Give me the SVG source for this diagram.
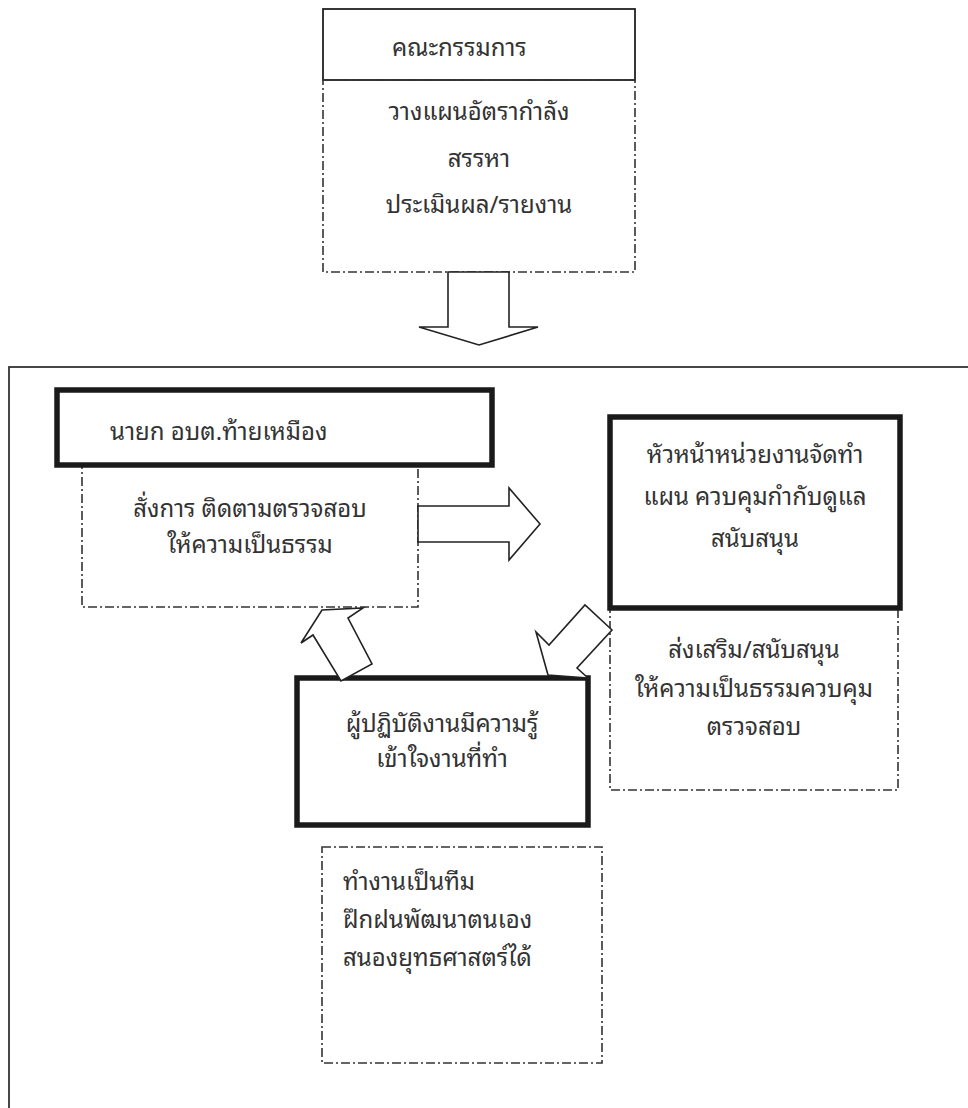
<svg xmlns="http://www.w3.org/2000/svg" width="968" height="1108" viewBox="0 0 968 1108">
<style>
.bg{fill:#ffffff}
.frame{fill:none;stroke:#333;stroke-width:1.8}
.thin{fill:#fff;stroke:#222;stroke-width:1.8}
.thick{fill:#fff;stroke:#1a1a1a;stroke-width:5.5}
.dash{fill:none;stroke:#333;stroke-width:1.6;stroke-dasharray:9 3 2 3}
.arrow{fill:#fff;stroke:#222;stroke-width:1.6;stroke-linejoin:miter}
text{font-family:"Noto Sans Thai Looped","Noto Sans Thai","Noto Sans","DejaVu Sans",sans-serif;font-size:24px;fill:#333}
.c{text-anchor:middle}
</style>
<rect class="bg" x="0" y="0" width="968" height="1108"/>
<rect class="frame" x="9" y="367" width="990" height="800"/>

<g id="committee">
<rect class="thin" x="323" y="9" width="312" height="71"/>
<text x="392" y="56">คณะกรรมการ</text>
<rect class="dash" x="323" y="80" width="312" height="192"/>
<text class="c" x="479" y="120">วางแผนอัตรากำลัง</text>
<text class="c" x="479" y="167">สรรหา</text>
<text class="c" x="479" y="213">ประเมินผล/รายงาน</text>
</g>

<g id="mayor">
<rect class="dash" x="82" y="465" width="336" height="142"/>
<rect class="thick" x="57" y="390" width="435" height="75"/>
<text x="110" y="440">นายก อบต.ท้ายเหมือง</text>
<text class="c" x="250" y="517">สั่งการ ติดตามตรวจสอบ</text>
<text class="c" x="250" y="553">ให้ความเป็นธรรม</text>
</g>

<g id="head">
<rect class="dash" x="610" y="608" width="288" height="182"/>
<rect class="thick" x="610" y="417" width="290" height="191"/>
<text class="c" x="755" y="463">หัวหน้าหน่วยงานจัดทำ</text>
<text class="c" x="755" y="505">แผน ควบคุมกำกับดูแล</text>
<text class="c" x="755" y="547">สนับสนุน</text>
<text class="c" x="754" y="658">ส่งเสริม/สนับสนุน</text>
<text class="c" x="754" y="697">ให้ความเป็นธรรมควบคุม</text>
<text class="c" x="754" y="735">ตรวจสอบ</text>
</g>

<g id="worker">
<rect class="thick" x="297" y="678" width="291" height="147"/>
<text class="c" x="442" y="732">ผู้ปฏิบัติงานมีความรู้</text>
<text class="c" x="442" y="767">เข้าใจงานที่ทำ</text>
</g>

<g id="worker-notes">
<rect class="dash" x="322" y="847" width="280" height="216"/>
<text x="343" y="890">ทำงานเป็นทีม</text>
<text x="343" y="928">ฝึกฝนพัฒนาตนเอง</text>
<text x="343" y="966">สนองยุทธศาสตร์ได้</text>
</g>

<g id="connectors">
<polygon class="arrow" points="448,272 509,272 509,327 538,327 479,345 419,327 448,327"/>
<polygon class="arrow" points="418,506 509,506 509,488 540,524 509,560 509,542 418,542"/>
<polygon class="arrow" points="322,610 363,608 348,618 372,664 341,681 313,635 301,643"/>
<polygon class="arrow" points="548,675 536,632 549,645 585,605 612,630 577,668 588,678"/>
</g>
</svg>
